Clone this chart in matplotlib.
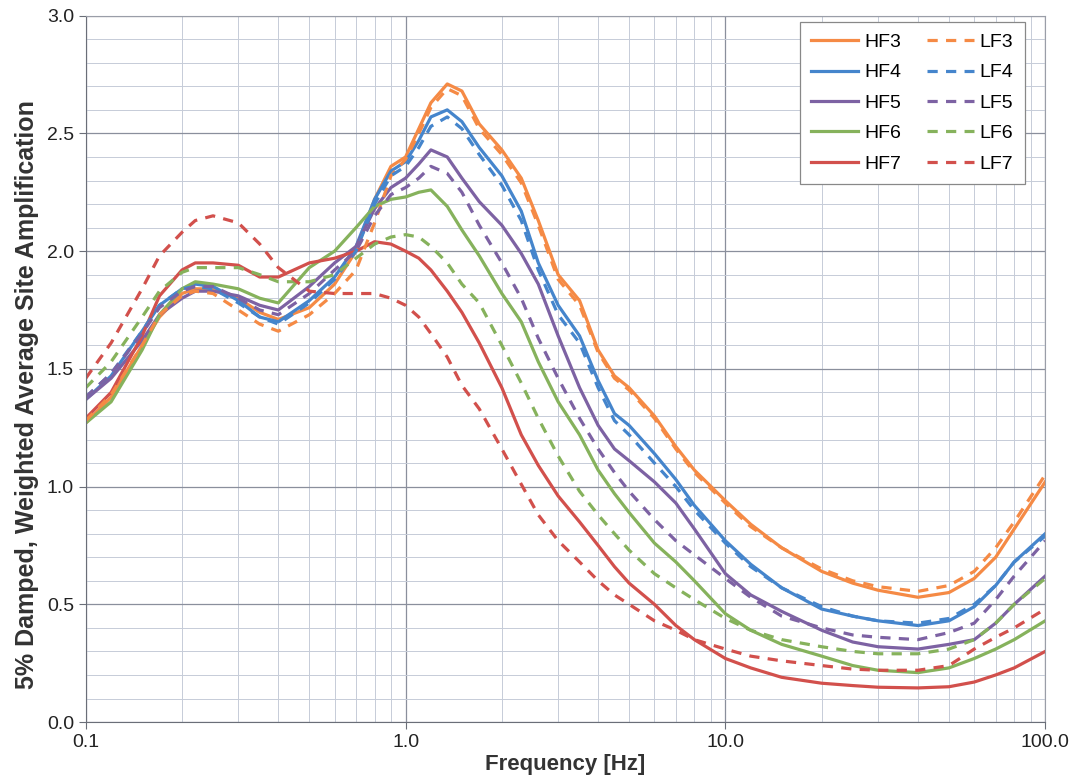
import matplotlib
matplotlib.use("Agg")
import matplotlib.pyplot as plt
from matplotlib.ticker import FixedLocator, MultipleLocator, NullFormatter, FormatStrFormatter

plt.rcParams['font.family'] = ['Liberation Sans', 'DejaVu Sans']

# frequency grid [Hz]
freq = [0.1, 0.12, 0.15, 0.17, 0.2, 0.22, 0.25, 0.3, 0.35, 0.4, 0.5, 0.6, 0.7, 0.8, 0.9, 1.0,
        1.1, 1.2, 1.35, 1.5, 1.7, 2.0, 2.3, 2.6, 3.0, 3.5, 4.0, 4.5, 5.0, 6.0, 7.0,
        8.0, 10, 12, 15, 20, 25, 30, 40, 50, 60, 70, 80, 100]

hf3 = [1.27, 1.38, 1.60, 1.72, 1.82, 1.84, 1.84, 1.80, 1.74, 1.71, 1.76, 1.86, 2.00, 2.22, 2.36, 2.40,
       2.52, 2.63, 2.71, 2.68, 2.54, 2.43, 2.31, 2.13, 1.90, 1.79, 1.58, 1.47, 1.42, 1.30, 1.17,
       1.07, 0.94, 0.84, 0.74, 0.64, 0.59, 0.56, 0.53, 0.55, 0.61, 0.70, 0.82, 1.02]
lf3 = [1.28, 1.39, 1.60, 1.73, 1.81, 1.83, 1.82, 1.75, 1.69, 1.66, 1.73, 1.82, 1.92, 2.12, 2.32, 2.39,
       2.50, 2.61, 2.69, 2.66, 2.52, 2.41, 2.29, 2.11, 1.88, 1.77, 1.57, 1.46, 1.41, 1.29, 1.16,
       1.06, 0.93, 0.83, 0.74, 0.65, 0.60, 0.575, 0.555, 0.58, 0.64, 0.74, 0.85, 1.05]
hf4 = [1.37, 1.47, 1.66, 1.77, 1.84, 1.86, 1.85, 1.79, 1.72, 1.70, 1.79, 1.89, 2.02, 2.22, 2.34, 2.38,
       2.47, 2.57, 2.60, 2.55, 2.44, 2.32, 2.17, 1.95, 1.77, 1.64, 1.45, 1.31, 1.26, 1.14, 1.03,
       0.92, 0.77, 0.67, 0.57, 0.48, 0.45, 0.43, 0.41, 0.43, 0.49, 0.58, 0.68, 0.80]
lf4 = [1.38, 1.48, 1.66, 1.77, 1.84, 1.85, 1.84, 1.78, 1.72, 1.69, 1.78, 1.88, 2.00, 2.20, 2.32, 2.36,
       2.44, 2.53, 2.57, 2.52, 2.41, 2.28, 2.13, 1.92, 1.73, 1.61, 1.42, 1.28, 1.22, 1.10, 1.00,
       0.90, 0.76, 0.66, 0.57, 0.49, 0.45, 0.43, 0.42, 0.44, 0.50, 0.58, 0.68, 0.79]
hf5 = [1.37, 1.46, 1.62, 1.73, 1.80, 1.83, 1.83, 1.81, 1.77, 1.75, 1.85, 1.95, 2.02, 2.18, 2.27, 2.31,
       2.37, 2.43, 2.40, 2.31, 2.21, 2.11, 1.99, 1.86, 1.64, 1.42, 1.26, 1.16, 1.11, 1.02, 0.93,
       0.82, 0.63, 0.54, 0.47, 0.39, 0.34, 0.32, 0.31, 0.33, 0.35, 0.42, 0.50, 0.62]
lf5 = [1.38, 1.48, 1.65, 1.76, 1.83, 1.85, 1.85, 1.80, 1.75, 1.73, 1.82, 1.92, 2.00, 2.15, 2.24, 2.27,
       2.31, 2.36, 2.33, 2.25, 2.11, 1.95, 1.80, 1.63, 1.46, 1.29, 1.16, 1.06, 0.98, 0.86, 0.77,
       0.71, 0.61, 0.53, 0.45, 0.40, 0.37, 0.36, 0.35, 0.38, 0.42, 0.52, 0.62, 0.77]
hf6 = [1.27, 1.36, 1.58, 1.73, 1.84, 1.87, 1.86, 1.84, 1.80, 1.78, 1.93, 2.00, 2.10, 2.19, 2.22, 2.23,
       2.25, 2.26, 2.19, 2.09, 1.98, 1.82, 1.70, 1.53, 1.36, 1.22, 1.07, 0.97, 0.89, 0.76, 0.68,
       0.60, 0.46, 0.39, 0.33, 0.28, 0.24, 0.22, 0.21, 0.23, 0.27, 0.31, 0.35, 0.43]
lf6 = [1.42, 1.53, 1.72, 1.83, 1.91, 1.93, 1.93, 1.93, 1.90, 1.87, 1.87, 1.90, 1.97, 2.03, 2.06, 2.07,
       2.06, 2.02, 1.95, 1.86, 1.78, 1.60, 1.44, 1.29, 1.13, 0.98, 0.88, 0.80, 0.73, 0.63, 0.57,
       0.52, 0.44, 0.39, 0.35, 0.32, 0.30, 0.29, 0.29, 0.31, 0.35, 0.42, 0.50, 0.61]
hf7 = [1.29, 1.40, 1.64, 1.81, 1.92, 1.95, 1.95, 1.94, 1.89, 1.89, 1.95, 1.97, 2.00, 2.04, 2.03, 2.00,
       1.97, 1.92, 1.83, 1.74, 1.61, 1.42, 1.22, 1.09, 0.96, 0.85, 0.75, 0.66, 0.59, 0.50, 0.41,
       0.35, 0.27, 0.23, 0.19, 0.165, 0.155, 0.148, 0.145, 0.15, 0.17, 0.20, 0.23, 0.30]
lf7 = [1.46, 1.61, 1.84, 1.98, 2.08, 2.13, 2.15, 2.12, 2.03, 1.93, 1.83, 1.82, 1.82, 1.82, 1.80, 1.77,
       1.72, 1.65, 1.55, 1.43, 1.33, 1.16, 1.01, 0.88, 0.77, 0.68, 0.60, 0.54, 0.50, 0.43, 0.39,
       0.35, 0.31, 0.28, 0.26, 0.24, 0.225, 0.22, 0.22, 0.24, 0.31, 0.36, 0.40, 0.48]

hf_series = [hf3, hf4, hf5, hf6, hf7]
lf_series = [lf3, lf4, lf5, lf6, lf7]
hf_labels = ['HF3', 'HF4', 'HF5', 'HF6', 'HF7']
lf_labels = ['LF3', 'LF4', 'LF5', 'LF6', 'LF7']
colors = ['#F58A45', '#4585CC', '#7D62A3', '#86B25C', '#D2504C']

fig = plt.figure(figsize=(10.72, 7.84), dpi=100)
ax = fig.add_axes([0.080, 0.079, 0.895, 0.901])

for vals, lab, c in zip(hf_series, hf_labels, colors):
    ax.plot(freq, vals, color=c, lw=2.3, label=lab, solid_joinstyle='round')
for vals, lab, c in zip(lf_series, lf_labels, colors):
    ax.plot(freq, vals, color=c, lw=2.3, ls=(0, (3.2, 2.6)), label=lab)

ax.set_xscale('log')
ax.set_xlim(0.1, 100)
ax.set_ylim(0, 3.0)
ax.xaxis.set_major_locator(FixedLocator([0.1, 1, 10, 100]))
ax.set_xticklabels(['0.1', '1.0', '10.0', '100.0'])
ax.xaxis.set_minor_formatter(NullFormatter())
ax.yaxis.set_major_locator(MultipleLocator(0.5))
ax.yaxis.set_minor_locator(MultipleLocator(0.1))
ax.yaxis.set_major_formatter(FormatStrFormatter('%.1f'))

ax.grid(True, which='major', color='#8a8f9c', lw=0.9)
ax.grid(True, which='minor', color='#c6ccd8', lw=0.7)
ax.set_axisbelow(True)
for s in ax.spines.values():
    s.set_color('#9a9ea8')
ax.spines['left'].set_color('#6a6e78')
ax.spines['bottom'].set_color('#6a6e78')
ax.tick_params(which='major', length=5, color='#6a6e78', labelsize=14, labelcolor='#222222')
ax.tick_params(which='minor', length=0)

ax.set_xlabel('Frequency [Hz]', fontsize=16, fontweight='bold', color='#333333', labelpad=2)
ax.set_ylabel('5% Damped, Weighted Average Site Amplification', fontsize=18,
              fontweight='bold', color='#333333')
ax.yaxis.set_label_coords(-0.049, 0.463)

leg = ax.legend(ncol=2, loc='upper right', bbox_to_anchor=(0.979, 0.9915), borderaxespad=0,
                fontsize=14, frameon=True, fancybox=False, edgecolor='#888888', framealpha=1,
                handlelength=2.4, handletextpad=0.3, columnspacing=1.35,
                labelspacing=0.66, borderpad=0.6)
leg.get_frame().set_linewidth(0.9)

fig.savefig('out.png', dpi=100, facecolor='white')
